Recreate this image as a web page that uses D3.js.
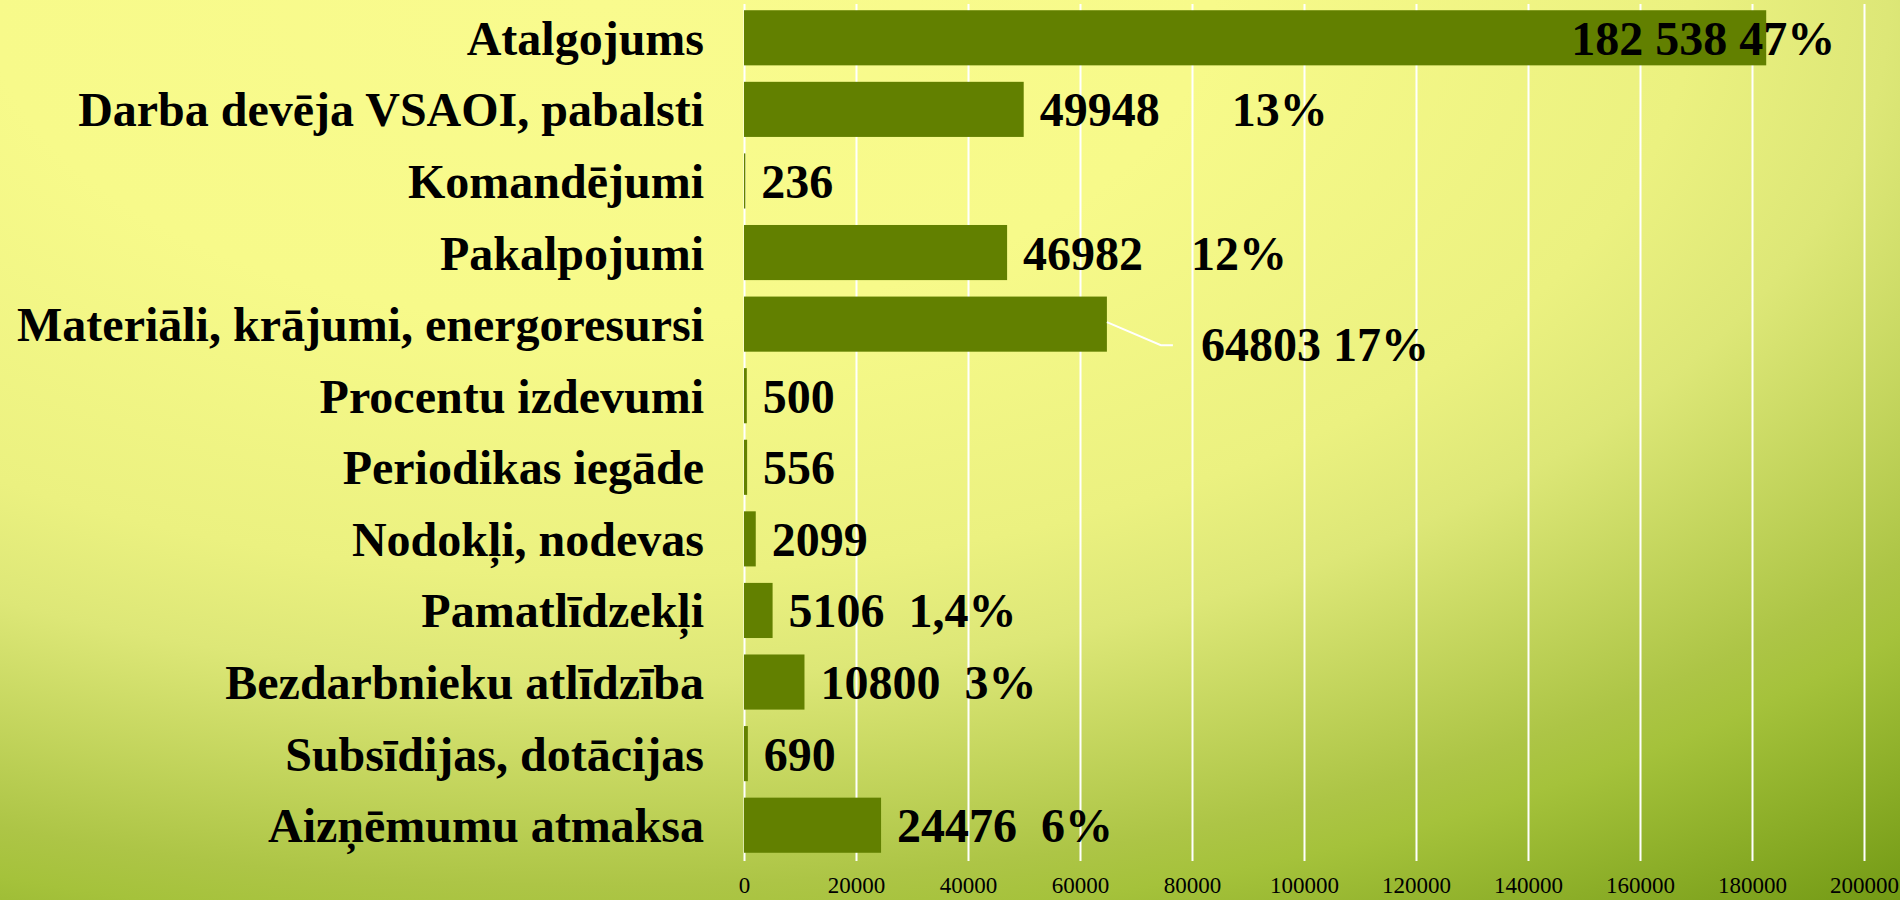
<!DOCTYPE html>
<html>
<head>
<meta charset="utf-8">
<script src="https://cdn.jsdelivr.net/npm/d3@7"></script>
<style>
  body { margin: 0; overflow: hidden; }
  text { font-family: "Liberation Serif", "Times New Roman", serif; }
</style>
</head>
<body>
<div id="chart"></div>
<script>
// Chart data
var categories = ["Atalgojums", "Darba devēja VSAOI, pabalsti", "Komandējumi", "Pakalpojumi",
  "Materiāli, krājumi, energoresursi", "Procentu izdevumi", "Periodikas iegāde",
  "Nodokļi, nodevas", "Pamatlīdzekļi", "Bezdarbnieku atlīdzība", "Subsīdijas, dotācijas",
  "Aizņēmumu atmaksa"];
var values = [182538, 49948, 236, 46982, 64803, 500, 556, 2099, 5106, 10800, 690, 24476];
var valueLabels = ["182 538 47%", "49948      13%", "236", "46982    12%", "64803 17%", "500",
  "556", "2099", "5106  1,4%", "10800  3%", "690", "24476  6%"];
var tickValues = [0, 20000, 40000, 60000, 80000, 100000, 120000, 140000, 160000, 180000, 200000];

// SVG area
var svgWidth = 1900;
var svgHeight = 900;

var svg = d3.select("#chart")
  .append("svg")
  .attr("width", svgWidth)
  .attr("height", svgHeight);

// background gradient (light yellow top-left to green bottom-right)
var defs = svg.append("defs");
var grad = defs.append("radialGradient")
  .attr("id", "bg")
  .attr("gradientUnits", "userSpaceOnUse")
  .attr("cx", 600).attr("cy", 0).attr("r", 1150)
  .attr("fx", 600).attr("fy", 0)
  .attr("gradientTransform", "translate(600,0) scale(1.9,1) translate(-600,0)");
[[0, "#f9fb8e"], [0.28, "#f7fa8a"], [0.5, "#ebf180"], [0.59, "#dde777"],
 [0.77, "#adc546"], [0.81, "#a5c23b"], [1, "#6e9611"]].forEach(function(s) {
  grad.append("stop").attr("offset", s[0]).attr("stop-color", s[1]);
});

svg.append("rect")
  .attr("width", svgWidth)
  .attr("height", svgHeight)
  .attr("fill", "url(#bg)");

// scales
var xScale = d3.scaleLinear()
  .domain([0, 200000])
  .range([744, 1864]);

var yScale = d3.scaleBand()
  .domain(categories)
  .range([2, 861])
  .paddingInner(0.23)
  .paddingOuter(0.115);

// x axis with white gridlines
var xAxis = d3.axisBottom(xScale)
  .tickValues(tickValues)
  .tickFormat(d3.format("d"))
  .tickSize(-857)
  .tickSizeOuter(0);

var axisG = svg.append("g")
  .attr("transform", "translate(0, 861)")
  .call(xAxis);

axisG.select(".domain").remove();
axisG.selectAll(".tick line")
  .attr("stroke", "#ffffff")
  .attr("stroke-width", 2);
axisG.selectAll(".tick text")
  .attr("y", 32)
  .attr("dy", 0)
  .attr("fill", "#000")
  .style("font-size", "23px");

// bars
svg.selectAll(".bar")
  .data(values)
  .enter()
  .append("rect")
  .attr("class", "bar")
  .attr("x", xScale(0))
  .attr("y", (d, i) => yScale(categories[i]))
  .attr("width", d => xScale(d) - xScale(0))
  .attr("height", yScale.bandwidth())
  .attr("fill", "#628000");

// category labels
svg.selectAll(".cat")
  .data(categories)
  .enter()
  .append("text")
  .attr("class", "cat")
  .attr("x", 704)
  .attr("y", d => yScale(d) + yScale.bandwidth() / 2 + 17)
  .attr("text-anchor", "end")
  .style("font-size", "48px")
  .style("font-weight", "bold")
  .text(d => d);

// value labels; first sits inside the bar, fifth is pulled out with a leader line
function labelX(d, i) {
  if (i === 0) return xScale(d) - 195;
  if (i === 4) return xScale(d) + 94;
  return xScale(d) + 16;
}
function labelY(d, i) {
  var c = yScale(categories[i]) + yScale.bandwidth() / 2;
  return i === 4 ? c + 37 : c + 17;
}

svg.selectAll(".val")
  .data(values)
  .enter()
  .append("text")
  .attr("class", "val")
  .attr("x", labelX)
  .attr("y", labelY)
  .attr("xml:space", "preserve")
  .style("white-space", "pre")
  .style("font-size", "48px")
  .style("font-weight", "bold")
  .text((d, i) => valueLabels[i]);

// leader line for Materiāli
var lx = xScale(values[4]);
var ly = yScale(categories[4]) + yScale.bandwidth() / 2;
svg.append("polyline")
  .attr("points", [[lx, ly - 2], [lx + 54, ly + 21], [lx + 66, ly + 21]].join(" "))
  .attr("fill", "none")
  .attr("stroke", "#ffffff")
  .attr("stroke-width", 2);
</script>
</body>
</html>
